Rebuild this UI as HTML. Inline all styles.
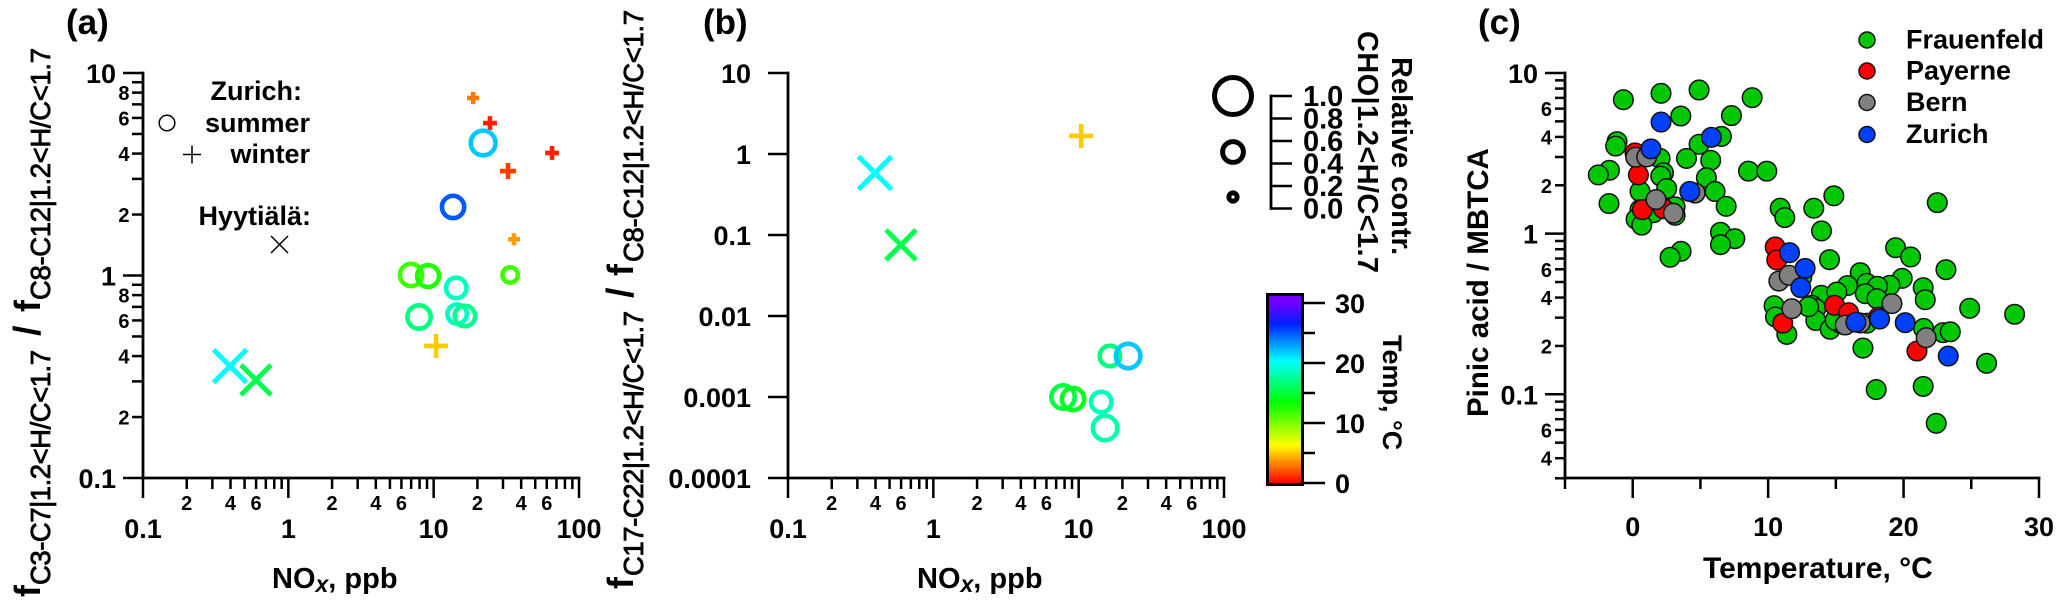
<!DOCTYPE html>
<html lang="en">
<head>
<meta charset="utf-8">
<title>Scatter panels (a), (b), (c)</title>
<style>
html,body{margin:0;padding:0;background:#fff;}
svg{display:block;}
text{font-family:"Liberation Sans",Arial,sans-serif;fill:#000;}
.b{font-weight:bold;}
.sub{font-weight:normal;stroke:#000;stroke-width:.8px;}
</style>
</head>
<body>
<svg id="fig" xmlns="http://www.w3.org/2000/svg" width="2067" height="606" viewBox="0 0 2067 606">
<defs><linearGradient id="tempGrad" gradientUnits="userSpaceOnUse" x1="0" y1="483" x2="0" y2="303"></linearGradient></defs>
<rect x="0" y="0" width="2067" height="606" fill="#fff"/>

<text class="b" x="66" y="34" font-size="35">(a)</text>
<text class="b" x="703" y="34" font-size="35">(b)</text>
<text class="b" x="1478" y="34" font-size="35">(c)</text>

<!-- panel a y title -->
<g>
<text class="b" font-size="36" transform="translate(40,597) rotate(-90)">f</text>
<text class="sub" font-size="27.5" textLength="235" transform="translate(50,585) rotate(-90)">C3-C7|1.2&lt;H/C&lt;1.7</text>
<text class="b" font-size="38" transform="translate(40,336) rotate(-90)">/</text>
<text class="b" font-size="36" transform="translate(40,312) rotate(-90)">f</text>
<text class="sub" font-size="27.5" textLength="252" transform="translate(50,300) rotate(-90)">C8-C12|1.2&lt;H/C&lt;1.7</text>
</g>
<!-- panel b y title -->
<g>
<text class="b" font-size="36" transform="translate(633,589) rotate(-90)">f</text>
<text class="sub" font-size="27.5" textLength="265" transform="translate(643,576) rotate(-90)">C17-C22|1.2&lt;H/C&lt;1.7</text>
<text class="b" font-size="38" transform="translate(633,298) rotate(-90)">/</text>
<text class="b" font-size="36" transform="translate(633,276) rotate(-90)">f</text>
<text class="sub" font-size="27.5" textLength="252" transform="translate(643,262) rotate(-90)">C8-C12|1.2&lt;H/C&lt;1.7</text>
</g>
<text class="b" font-size="29.5" transform="translate(1488,417) rotate(-90)">Pinic acid / MBTCA</text>

<text class="b" font-size="29" x="272" y="588">NO<tspan font-style="italic" font-size="23" dy="4">x</tspan><tspan dy="-4">, ppb</tspan></text>
<text class="b" font-size="29" x="917" y="588">NO<tspan font-style="italic" font-size="23" dy="4">x</tspan><tspan dy="-4">, ppb</tspan></text>
<text class="b" font-size="30" x="1703" y="578">Temperature, °C</text>

<!-- site key in panel a -->
<g>
<text class="b" font-size="27" x="302" y="100" text-anchor="end">Zurich:</text>
<text class="b" font-size="27" x="310" y="132" text-anchor="end">summer</text>
<text class="b" font-size="27" x="310" y="163" text-anchor="end">winter</text>
<text class="b" font-size="27" x="311" y="225" text-anchor="end">Hyytiälä:</text>
<circle cx="167" cy="123" r="7.8" fill="none" stroke="#000" stroke-width="1.5"/>
<path d="M183 154.500H201M192 145.500V163.500" fill="none" stroke="#000" stroke-width="1.5"/>
<path d="M271 236L288 253M288 236L271 253" fill="none" stroke="#000" stroke-width="1.5"/>
</g>

<!-- size legend text -->
<text class="b" font-size="29" transform="translate(1392,57) rotate(90)">Relative contr.</text>
<text class="b" font-size="29" textLength="242" transform="translate(1358,31) rotate(90)">CHO|1.2&lt;H/C&lt;1.7</text>
<text class="b" font-size="27" transform="translate(1383,335) rotate(90)">Temp, °C</text>

<g id="plots"></g>
</svg>
<script>
// ---- Panel (a) data ----
const aCircleNox = [21.9, 13.6, 6.99, 9.15, 14.3, 7.93, 14.5, 16.4, 33.6];
const aCircleRatio = [4.51, 2.18, 1.006, 0.994, 0.868, 0.624, 0.645, 0.631, 1.006];
const aCircleTemp = [21.85, 24.95, 11.7, 12.6, 18.6, 16.9, 18.6, 17.3, 11.7];
const aCircleContr = [0.65, 0.58, 0.58, 0.57, 0.53, 0.61, 0.5, 0.53, 0.39];
const aPlusNox = [18.7, 24.4, 65.3, 32.5, 35.7, 10.4];
const aPlusRatio = [7.52, 5.66, 4.03, 3.28, 1.51, 0.449];
const aPlusTemp = [3.0, 0.8, 0.8, 1.5, 3.8, 5.0];
const aPlusContr = [0.17, 0.22, 0.22, 0.28, 0.17, 0.5];
const aCrossNox = [0.397, 0.599];
const aCrossRatio = [0.357, 0.305];
const aCrossTemp = [20.3, 15.6];
const aCrossContr = [0.75, 0.67];
// ---- Panel (b) data ----
const bCircleNox = [16.4, 21.9, 7.81, 9.15, 14.3, 15.2];
const bCircleRatio = [0.00321, 0.00321, 0.001, 0.000944, 0.000867, 0.000414];
const bCircleTemp = [16.9, 21.85, 15.2, 14.4, 18.6, 18.2];
const bCircleContr = [0.53, 0.64, 0.61, 0.58, 0.53, 0.64];
const bPlusNox = [10.4];
const bPlusRatio = [1.67];
const bPlusTemp = [5.0];
const bPlusContr = [0.5];
const bCrossNox = [0.397, 0.599];
const bCrossRatio = [0.583, 0.0753];
const bCrossTemp = [20.3, 15.6];
const bCrossContr = [0.75, 0.67];
// ---- Panel (c) data ----
const frauenfeldTemp = [-0.69,2.09,4.90,8.82,3.55,7.29,6.55,4.90,-1.16,-1.26,2.02,3.97,5.76,-1.72,-2.54,8.55,9.90,2.27,2.07,5.44,2.51,0.54,6.08,-1.75,6.90,3.13,0.54,1.53,3.13,0.25,0.67,10.89,11.23,13.37,14.85,22.49,13.94,6.48,7.54,6.48,3.57,2.76,14.53,19.41,20.52,23.13,16.80,17.29,15.86,19.90,18.99,18.08,17.17,21.45,18.03,21.60,13.92,15.07,10.44,10.54,13.23,13.52,13.52,14.58,15.32,17.29,11.38,21.48,22.91,23.45,24.88,28.20,26.13,17.00,17.98,21.45,22.41,16.40,12.98,14.95,12.49];
const frauenfeldRatio = [6.82,7.47,7.84,7.02,5.40,5.43,4.03,3.60,3.74,3.51,2.94,2.94,2.86,2.48,2.32,2.45,2.45,2.39,2.28,2.23,1.91,1.83,1.83,1.54,1.48,1.47,1.41,1.35,1.30,1.23,1.13,1.44,1.26,1.44,1.72,1.56,1.04,1.02,0.931,0.854,0.776,0.712,0.689,0.818,0.716,0.597,0.572,0.491,0.475,0.527,0.477,0.470,0.423,0.461,0.394,0.388,0.413,0.433,0.356,0.303,0.358,0.341,0.288,0.254,0.277,0.277,0.236,0.257,0.242,0.245,0.343,0.315,0.156,0.194,0.107,0.112,0.066,0.282,0.351,0.289,0.537];
const payerneTemp = [10.52,10.64,0.42,0.17,0.71,2.27,14.90,15.94,11.08,18.15,20.99];
const payerneRatio = [0.826,0.686,2.32,3.18,1.41,1.43,0.358,0.322,0.277,0.302,0.186];
const bernTemp = [0.22,1.03,1.72,3.00,4.61,10.79,11.55,11.75,15.69,16.80,19.14,21.67];
const bernRatio = [2.99,3.00,1.63,1.34,1.79,0.507,0.550,0.341,0.270,0.278,0.367,0.225];
const zurichTemp = [2.09,5.81,1.35,4.21,11.58,12.73,12.41,16.48,18.23,20.12,23.30];
const zurichRatio = [4.95,3.98,3.37,1.83,0.761,0.608,0.461,0.281,0.294,0.279,0.173];
const siteNames = ['Frauenfeld','Payerne','Bern','Zurich'];
// ---- Tick labels and colour scale ----
const aYMajorTicks = [0.1,1,10];
const aYMajorLabels = ['0.1','1','10'];
const aYMinorMultipliers = [2,3,4,5,6,7,8,9];
const aYMinorLabelled = [2,4,6,8];
const bYMajorTicks = [0.0001,0.001,0.01,0.1,1,10];
const bYMajorLabels = ['0.0001','0.001','0.01','0.1','1','10'];
const xMajorTicks = [0.1,1,10,100];
const xMajorLabels = ['0.1','1','10','100'];
const xMinorLabelled = [2,4,6];
const cYMajorTicks = [0.1,1,10];
const cYMajorLabels = ['0.1','1','10'];
const cYMinorLabelled = [2,4,6];
const cXMajorTicks = [0,10,20,30];
const cXMinorTicks = [-5,5,15,25];
const sizeLegendContr = [1,0.55,0.2];
const sizeScaleTicks = [0,0.2,0.4,0.6,0.8,1.0];
const sizeScaleLabels = ['0.0','0.2','0.4','0.6','0.8','1.0'];
const cbarMajorTicks = [0,10,20,30];
const cbarMinorTicks = [5,15,25];
const cbarStopTemps = [0,6.3,13.5,20.3,26.5,30];
const cbarStopColors = ['#ff0000','#ffff00','#00ff00','#00ffff','#0020ff','#7000ff'];

const NS = 'http://www.w3.org/2000/svg';
const root = document.getElementById('plots');
function mk(tag, attrs, parent) {
  const el = document.createElementNS(NS, tag);
  for (const k in attrs) el.setAttribute(k, attrs[k]);
  (parent || root).appendChild(el);
  return el;
}
function logScale(d0, d1, p0, p1) {
  return v => p0 + (Math.log10(v) - Math.log10(d0)) / (Math.log10(d1) - Math.log10(d0)) * (p1 - p0);
}
function linScale(d0, d1, p0, p1) {
  return v => p0 + (v - d0) / (d1 - d0) * (p1 - p0);
}
function tickLine(x1, y1, x2, y2) {
  const el = mk('line', {x1, y1, x2, y2, stroke: '#000', 'stroke-width': 2.5});
  
  
  return el;
}
function axisLine(x1, y1, x2, y2) {
  const el = mk('line', {x1, y1, x2, y2, stroke: '#000', 'stroke-width': 2.8, 'stroke-linecap': 'square'});
  
  
  return el;
}
function label(x, y, str, size, anchor) {
  const el = mk('text', {x, y, 'font-size': size, 'font-weight': 'bold', 'text-anchor': anchor});
  el.textContent = str;
  
  
  return el;
}
function lerpColor(a, b, t) {
  const pa = [1,3,5].map(i => parseInt(a.substr(i,2),16));
  const pb = [1,3,5].map(i => parseInt(b.substr(i,2),16));
  return 'rgb(' + pa.map((v,i) => Math.round(v + (pb[i]-v)*t)).join(',') + ')';
}
function tempColor(t) {
  for (let i = 0; i < cbarStopTemps.length - 1; i++) {
    if (t <= cbarStopTemps[i+1]) {
      return lerpColor(cbarStopColors[i], cbarStopColors[i+1], (t - cbarStopTemps[i]) / (cbarStopTemps[i+1] - cbarStopTemps[i]));
    }
  }
  return cbarStopColors[cbarStopColors.length - 1];
}
const sizeOf = c => 3 + 18 * c;

function logXAxis(sx, axisY, labelMinor) {
  axisLine(sx(0.1), axisY, sx(100), axisY);
  xMajorTicks.forEach((t, i) => {
    tickLine(sx(t), axisY, sx(t), axisY + 20);
    label(sx(t), 538, xMajorLabels[i], 27, 'middle');
    if (t < 100) {
      aYMinorMultipliers.forEach(m => {
        tickLine(sx(t*m), axisY, sx(t*m), axisY + 11);
        if (labelMinor.includes(m)) label(sx(t*m), 510, String(m), 20, 'middle');
      });
    }
  });
}
function drawCircles(sx, sy, xs, ys, temps, contr) {
  xs.forEach((x, i) => {
    const el = mk('circle', {cx: sx(x), cy: sy(ys[i]), r: sizeOf(contr[i]) - 2.3, fill: 'none', stroke: tempColor(temps[i]), 'stroke-width': 4.6});
    
    
  });
}
function drawPluses(sx, sy, xs, ys, temps, contr) {
  xs.forEach((x, i) => {
    const h = sizeOf(contr[i]), px = sx(x), py = sy(ys[i]);
    const el = mk('path', {d: `M${px-h} ${py}H${px+h}M${px} ${py-h}V${py+h}`, fill: 'none', stroke: tempColor(temps[i]), 'stroke-width': 4.6});
    
    
  });
}
function drawCrosses(sx, sy, xs, ys, temps, contr) {
  xs.forEach((x, i) => {
    const h = sizeOf(contr[i]), px = sx(x), py = sy(ys[i]);
    const el = mk('path', {d: `M${px-h} ${py-h}L${px+h} ${py+h}M${px+h} ${py-h}L${px-h} ${py+h}`, fill: 'none', stroke: tempColor(temps[i]), 'stroke-width': 5});
    
    
  });
}

// ---- Panel a ----
const axA = logScale(0.1, 100, 143, 579);
const ayA = logScale(0.1, 10, 478, 73);
axisLine(143, 73, 143, 478);
aYMajorTicks.forEach((t, i) => {
  tickLine(123, ayA(t), 143, ayA(t));
  label(116, ayA(t) + 10, aYMajorLabels[i], 27, 'end');
  if (t < 10) {
    aYMinorMultipliers.forEach(m => {
      tickLine(132, ayA(t*m), 143, ayA(t*m));
      if (aYMinorLabelled.includes(m)) label(129.500, ayA(t*m) + 7.500, String(m), 20, 'end');
    });
  }
});
logXAxis(axA, 478, xMinorLabelled);
drawPluses(axA, ayA, aPlusNox, aPlusRatio, aPlusTemp, aPlusContr);
drawCircles(axA, ayA, aCircleNox, aCircleRatio, aCircleTemp, aCircleContr);
drawCrosses(axA, ayA, aCrossNox, aCrossRatio, aCrossTemp, aCrossContr);

// ---- Panel b ----
const axB = logScale(0.1, 100, 788, 1224);
const ayB = logScale(0.0001, 10, 478, 73);
axisLine(788, 73, 788, 478);
bYMajorTicks.forEach((t, i) => {
  tickLine(768, ayB(t), 788, ayB(t));
  label(751, ayB(t) + 10, bYMajorLabels[i], 27, 'end');
});
logXAxis(axB, 478, xMinorLabelled);
drawPluses(axB, ayB, bPlusNox, bPlusRatio, bPlusTemp, bPlusContr);
drawCircles(axB, ayB, bCircleNox, bCircleRatio, bCircleTemp, bCircleContr);
drawCrosses(axB, ayB, bCrossNox, bCrossRatio, bCrossTemp, bCrossContr);

// ---- Size legend ----
sizeLegendContr.forEach((c, i) => {
  const cy = [96, 152, 197][i];
  const el = mk('circle', {cx: 1233, cy, r: sizeOf(c) - 2.5, fill: 'none', stroke: '#000', 'stroke-width': 5});
  
  
});
const sizeY = linScale(0, 1, 208.500, 96);
axisLine(1271, sizeY(0), 1271, sizeY(1));
sizeScaleTicks.forEach((t, i) => {
  tickLine(1271, sizeY(t), 1292, sizeY(t));
  label(1303, sizeY(t) + 10, sizeScaleLabels[i], 29, 'start');
});

// ---- Colour bar ----
const grad = document.getElementById('tempGrad');
cbarStopTemps.forEach((t, i) => {
  const s = document.createElementNS(NS, 'stop');
  s.setAttribute('offset', t / 30);
  s.setAttribute('stop-color', cbarStopColors[i]);
  grad.appendChild(s);
});
const cbarRect = mk('rect', {x: 1267.500, y: 294.500, width: 35, height: 190, fill: 'url(#tempGrad)', stroke: '#000', 'stroke-width': 3});


const cbarY = linScale(0, 30, 483, 303);
cbarMajorTicks.forEach(t => {
  tickLine(1304, cbarY(t), 1325, cbarY(t));
  label(1335, cbarY(t) + 10, String(t), 27, 'start');
});
cbarMinorTicks.forEach(t => tickLine(1304, cbarY(t), 1315, cbarY(t)));

// ---- Panel c ----
const axC = linScale(-5, 30, 1565, 2039);
const ayC = logScale(0.1, 10, 394.300, 73);
axisLine(1565, 73, 1565, 478);
axisLine(1565, 478, 2039, 478);
cYMajorTicks.forEach((t, i) => {
  tickLine(1545, ayC(t), 1565, ayC(t));
  label(1538, ayC(t) + 10, cYMajorLabels[i], 27, 'end');
});
[0.01, 0.1, 1].forEach(d => {
  aYMinorMultipliers.forEach(m => {
    const v = d * m;
    if (v < 0.03 - 1e-9) return;
    tickLine(1555, ayC(v), 1565, ayC(v));
    if (cYMinorLabelled.includes(m) && v > 0.03) label(1552, ayC(v) + 7.500, String(m), 20, 'end');
  });
});
cXMajorTicks.forEach(t => {
  tickLine(axC(t), 478, axC(t), 498);
  label(axC(t), 536, String(t), 27, 'middle');
});
cXMinorTicks.forEach(t => tickLine(axC(t), 478, axC(t), 489));

const siteColors = ['#00c800', '#ff0000', '#808080', '#0040ff'];
function drawSite(xs, ys, color, name) {
  xs.forEach((x, i) => {
    const el = mk('circle', {cx: axC(x), cy: ayC(ys[i]), r: 9.8, fill: color, stroke: '#111', 'stroke-width': 1.5});
    
    
  });
}
drawSite(frauenfeldTemp, frauenfeldRatio, siteColors[0], 'frauenfeld-point');
drawSite(payerneTemp, payerneRatio, siteColors[1], 'payerne-point');
drawSite(bernTemp, bernRatio, siteColors[2], 'bern-point');
drawSite(zurichTemp, zurichRatio, siteColors[3], 'zurich-point');

const legendRowMarker = [40, 71, 102.500, 134.500];
siteNames.forEach((n, i) => {
  const c = mk('circle', {cx: 1867, cy: legendRowMarker[i], r: 8, fill: siteColors[i], stroke: '#111', 'stroke-width': 1.5});
  
  
  const t = mk('text', {x: 1906, y: legendRowMarker[i] + 8.500, 'font-size': 27, 'font-weight': 'bold'});
  t.textContent = n;
  
  
});
</script>
</body>
</html>
